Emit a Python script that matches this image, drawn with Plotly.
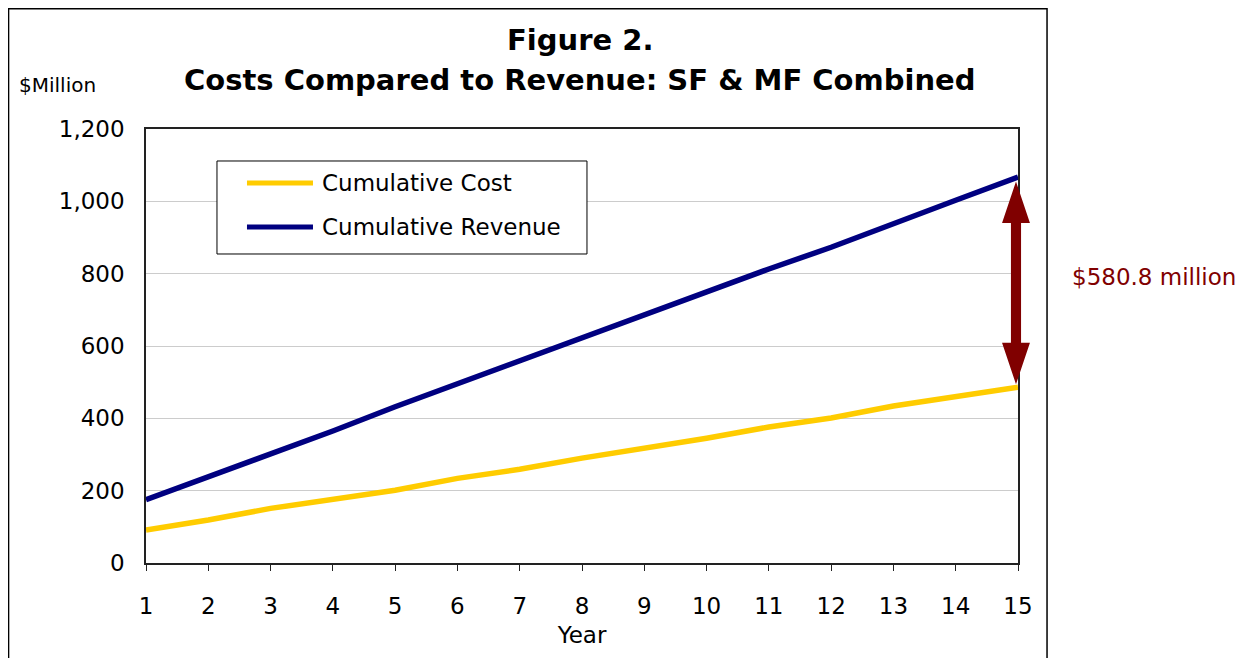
import plotly.graph_objects as go

years = list(range(1, 16))
cumulative_cost = [91, 119, 151, 176, 201, 234, 259, 290, 317, 345, 376, 401, 434, 459, 486.2]
cumulative_revenue = [175, 238, 301, 365, 432, 496, 561, 622, 685, 749, 813, 873, 940, 1003, 1067]
y_ticks = [0, 200, 400, 600, 800, 1000, 1200]
y_tick_labels = ["0", "200", "400", "600", "800", "1,000", "1,200"]
series_names = ["Cumulative Cost", "Cumulative Revenue"]
gap_label = "$580.8 million"

FONT = "DejaVu Sans"
COST_COLOR = "#FFCC00"
REV_COLOR = "#000080"
ARROW_COLOR = "#800000"

fig = go.Figure()
fig.add_trace(go.Scatter(x=years, y=cumulative_cost, mode="lines", name=series_names[0],
                         line=dict(color=COST_COLOR, width=5.5), showlegend=False))
fig.add_trace(go.Scatter(x=years, y=cumulative_revenue, mode="lines", name=series_names[1],
                         line=dict(color=REV_COLOR, width=5.5), showlegend=False))

# double-headed arrow between the final values (x in paper units, y in data units)
top = cumulative_revenue[-1] - 12
bot = cumulative_cost[-1] + 8
head = 115
xc, hw, sw = 0.9977, 0.016, 0.0058
pts = [(xc, top), (xc + hw, top - head), (xc + sw, top - head), (xc + sw, bot + head),
       (xc + hw, bot + head), (xc, bot), (xc - hw, bot + head), (xc - sw, bot + head),
       (xc - sw, top - head), (xc - hw, top - head)]
path = "M " + " L ".join(f"{px},{py}" for px, py in pts) + " Z"

# legend box (drawn by hand so the sample lines have the original length)
leg_x0, leg_x1, leg_y0, leg_y1 = 0.0814, 0.5057, 0.712, 0.9263
leg_line_x0, leg_line_x1, leg_text_x = 0.1158, 0.1915, 0.1995
leg_rows = [0.8756, 0.7742]
leg_colors = [COST_COLOR, REV_COLOR]

shapes = [
    dict(type="path", path=path, xref="paper", yref="y", fillcolor=ARROW_COLOR,
         line=dict(width=0), layer="above"),
    # outer chart frame
    dict(type="rect", xref="paper", yref="paper", x0=-0.1576, x1=1.0333, y0=-0.35, y1=1.277,
         line=dict(color="black", width=1.5), layer="below"),
    dict(type="rect", xref="paper", yref="paper", x0=leg_x0, x1=leg_x1, y0=leg_y0, y1=leg_y1,
         line=dict(color="black", width=1), fillcolor="white", layer="above"),
]
annotations = []
for name, color, ry in zip(series_names, leg_colors, leg_rows):
    shapes.append(dict(type="line", xref="paper", yref="paper", x0=leg_line_x0, x1=leg_line_x1,
                       y0=ry, y1=ry, line=dict(color=color, width=5), layer="above"))
    annotations.append(dict(text=name, x=leg_text_x, y=ry, xref="paper", yref="paper",
                            xanchor="left", yanchor="middle", showarrow=False,
                            font=dict(family=FONT, size=23, color="black")))

annotations += [
    dict(text="<b>Figure 2.</b>", x=0.4977, y=1.205, xref="paper", yref="paper",
         xanchor="center", yanchor="middle", showarrow=False,
         font=dict(family=FONT, size=29, color="black")),
    dict(text="<b>Costs Compared to Revenue: SF & MF Combined</b>", x=0.4977, y=1.113,
         xref="paper", yref="paper", xanchor="center", yanchor="middle", showarrow=False,
         font=dict(family=FONT, size=29, color="black")),
    dict(text="$Million", x=-0.148, y=1.101, xref="paper", yref="paper",
         xanchor="left", yanchor="middle", showarrow=False,
         font=dict(family=FONT, size=20, color="black")),
    dict(text=gap_label, x=1.0596, y=(cumulative_revenue[-1] + cumulative_cost[-1]) / 2 + 14,
         xref="paper", yref="y", xanchor="left", yanchor="middle", showarrow=False,
         font=dict(family=FONT, size=23, color=ARROW_COLOR)),
]

fig.update_layout(
    width=1245, height=658,
    margin=dict(l=138, r=235, t=121, b=103),
    paper_bgcolor="white", plot_bgcolor="white",
    font=dict(family=FONT, size=23, color="black"),
    showlegend=False,
    shapes=shapes,
    annotations=annotations,
    xaxis=dict(range=[1, 15], tickmode="array", tickvals=years, ticktext=[str(v) for v in years],
               showgrid=False, zeroline=False, showline=True, linecolor="#222", linewidth=1.5,
               mirror=True, ticks="outside", ticklen=6, tickcolor="#222", tickwidth=1,
               ticklabelstandoff=16,
               title=dict(text="Year", font=dict(family=FONT, size=23), standoff=9)),
    yaxis=dict(range=[0, 1200], tickmode="array", tickvals=y_ticks, ticktext=y_tick_labels,
               showgrid=True, gridcolor="#CCCCCC", gridwidth=1, zeroline=False,
               showline=True, linecolor="#222", linewidth=1.5, mirror=True, ticks="",
               ticklabelstandoff=15),
)

fig.write_html("out.html")
